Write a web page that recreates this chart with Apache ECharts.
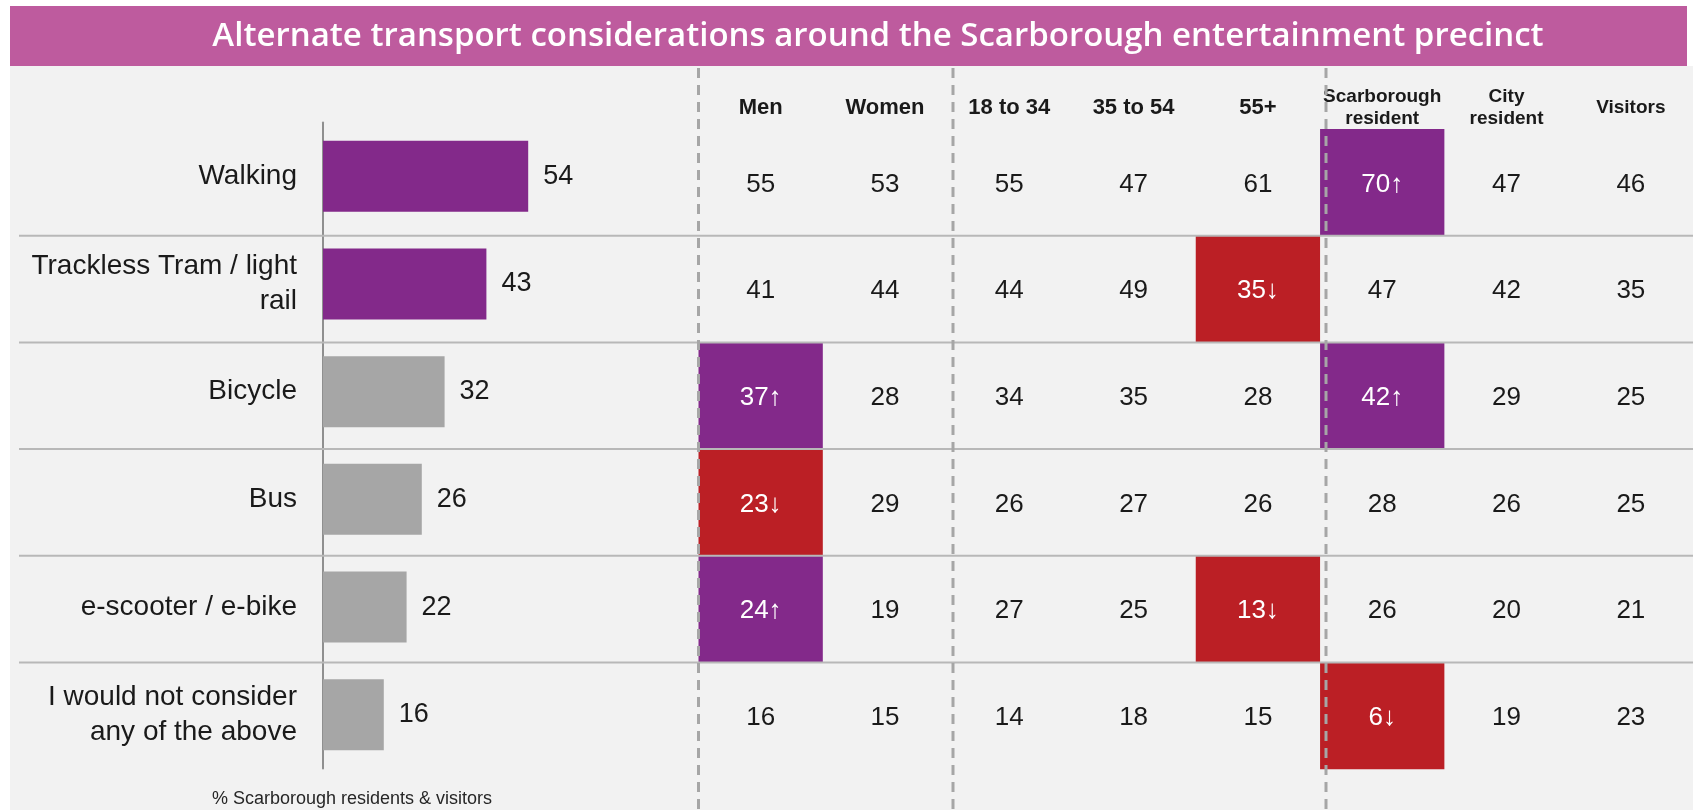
<!DOCTYPE html>
<html>
<head>
<meta charset="utf-8">
<title>Alternate transport considerations</title>
<script src="https://cdn.jsdelivr.net/npm/echarts@6/dist/echarts.min.js"></script>
<style>
  html, body { margin: 0; padding: 0; background: #ffffff; }
  #chart { width: 1693px; height: 810px; }
</style>
</head>
<body>
<div id="chart"></div>
<script>
// ---- data ----
const titleText = 'Alternate transport considerations around the Scarborough entertainment precinct';
const footnote = '% Scarborough residents & visitors';

const categories = [
  'Walking',
  'Trackless Tram / light\nrail',
  'Bicycle',
  'Bus',
  'e-scooter / e-bike',
  'I would not consider\nany of the above'
];
const totals = [54, 43, 32, 26, 22, 16];
const totalsHighlighted = [true, true, false, false, false, false];

const columnLabels = ['Men', 'Women', '18 to 34', '35 to 54', '55+',
  'Scarborough\nresident', 'City\nresident', 'Visitors'];
const men                 = [55, 41, 37, 23, 24, 16];
const women               = [53, 44, 28, 29, 19, 15];
const age18to34           = [55, 44, 34, 26, 27, 14];
const age35to54           = [47, 49, 35, 27, 25, 18];
const age55plus           = [61, 35, 28, 26, 13, 15];
const scarboroughResident = [70, 47, 42, 28, 26, 6];
const cityResident        = [47, 42, 29, 26, 20, 19];
const visitors            = [46, 35, 25, 25, 21, 23];

// cells significantly above / below the total: [column index, row index]
const sigHigher = [[5, 0], [0, 2], [5, 2], [0, 4]];
const sigLower  = [[4, 1], [0, 3], [4, 4], [5, 5]];

// ---- styling / layout ----
const PURPLE = '#83298a';
const RED = '#bb1f25';
const GREY_BAR = '#a6a6a6';
const INK = '#1a1a1a';
const FONT = '"Liberation Sans", Arial, sans-serif';

const barGrid = { left: 323, top: 122.4, width: 380, height: 6 * 107.7 };
const colW = 125.4, rowH = 106.7;
const tableGrid = { left: 698.5, top: 129, width: 8 * colW, height: 6 * rowH };

const columns = [men, women, age18to34, age35to54, age55plus,
  scarboroughResident, cityResident, visitors];

function flagOf(c, r) {
  if (sigHigher.some(p => p[0] === c && p[1] === r)) return 1;
  if (sigLower.some(p => p[0] === c && p[1] === r)) return -1;
  return 0;
}

const tableData = [];
columns.forEach((col, c) => {
  col.forEach((v, r) => tableData.push([c, r, v, flagOf(c, r)]));
});

const chart = echarts.init(document.getElementById('chart'), null, { renderer: 'canvas' });

// decorations: panel, title band, row rules, dashed group dividers
const graphics = [
  { type: 'rect', z: -10, shape: { x: 10, y: 66, width: 1683, height: 744 },
    style: { fill: '#f2f2f2' } },
  { type: 'rect', z: 5, shape: { x: 10, y: 6, width: 1677, height: 60 },
    style: { fill: '#be5b9e' } },
  { type: 'text', z: 6, x: 878, y: 37,
    style: { text: titleText, fill: '#ffffff', font: '600 33px "Open Sans", sans-serif',
      align: 'center', verticalAlign: 'middle' } },
  { type: 'text', z: 6, x: 352, y: 799,
    style: { text: footnote, fill: '#262626', font: '18px ' + FONT,
      align: 'center', verticalAlign: 'middle' } }
];
for (let k = 1; k < 6; k++) {
  const y = tableGrid.top + rowH * k;
  graphics.push({ type: 'line', z: 20,
    shape: { x1: 19, y1: y, x2: 1693, y2: y },
    style: { stroke: '#b8b8b8', lineWidth: 2 } });
}
[698.5, 953, 1326].forEach(x => {
  graphics.push({ type: 'line', z: 21,
    shape: { x1: x, y1: 68, x2: x, y2: 810 },
    style: { stroke: '#a6a6a6', lineWidth: 3, lineDash: [10, 7] } });
});

const option = {
  backgroundColor: '#ffffff',
  animation: false,
  textStyle: { fontFamily: FONT },
  graphic: { elements: graphics },
  grid: [
    Object.assign({ containLabel: false }, barGrid),
    Object.assign({ containLabel: false }, tableGrid)
  ],
  xAxis: [
    { gridIndex: 0, type: 'value', min: 0, max: 100, show: false },
    { gridIndex: 1, type: 'category', data: columnLabels, position: 'top',
      axisLine: { show: false }, axisTick: { show: false }, splitLine: { show: false },
      axisLabel: {
        interval: 0, margin: 21, verticalAlign: 'middle',
        formatter: (val, idx) => val.split('\n')
          .map(line => (idx < 5 ? '{big|' : '{small|') + line + '}').join('\n'),
        rich: {
          big: { fontFamily: FONT, fontWeight: 'bold', fontSize: 22, color: INK, lineHeight: 26 },
          small: { fontFamily: FONT, fontWeight: 'bold', fontSize: 19, color: INK, lineHeight: 22 }
        }
      } }
  ],
  yAxis: [
    { gridIndex: 0, type: 'category', data: categories, inverse: true,
      axisLine: { show: true, lineStyle: { color: '#8f8f8f', width: 2 } },
      axisTick: { show: false },
      axisLabel: { margin: 26, fontFamily: FONT, fontSize: 28, color: INK,
        lineHeight: 35, align: 'right' } },
    { gridIndex: 1, type: 'category', data: categories, inverse: true, show: false }
  ],
  series: [
    {
      type: 'bar',
      xAxisIndex: 0, yAxisIndex: 0,
      barWidth: 71,
      data: totals.map((v, i) => ({
        value: v,
        itemStyle: { color: totalsHighlighted[i] ? PURPLE : GREY_BAR }
      })),
      label: { show: true, position: 'right', distance: 15,
        fontFamily: FONT, fontSize: 27, color: INK }
    },
    {
      type: 'custom',
      xAxisIndex: 1, yAxisIndex: 1,
      data: tableData,
      encode: { x: 0, y: 1 },
      renderItem: (params, api) => {
        const c = api.value(0), r = api.value(1);
        const v = api.value(2), f = api.value(3);
        const p = api.coord([c, r]);
        const s = api.size([1, 1]);
        const children = [];
        if (f !== 0) {
          children.push({ type: 'rect',
            shape: { x: p[0] - s[0] / 2, y: p[1] - s[1] / 2, width: s[0], height: s[1] },
            style: { fill: f > 0 ? PURPLE : RED } });
        }
        children.push({ type: 'text',
          x: p[0], y: p[1] + 2,
          style: { text: String(v) + (f > 0 ? '\u2191' : f < 0 ? '\u2193' : ''),
            fill: f !== 0 ? '#ffffff' : INK,
            font: '26px ' + FONT, align: 'center', verticalAlign: 'middle' } });
        return { type: 'group', children };
      }
    }
  ]
};

chart.setOption(option);
</script>
</body>
</html>
